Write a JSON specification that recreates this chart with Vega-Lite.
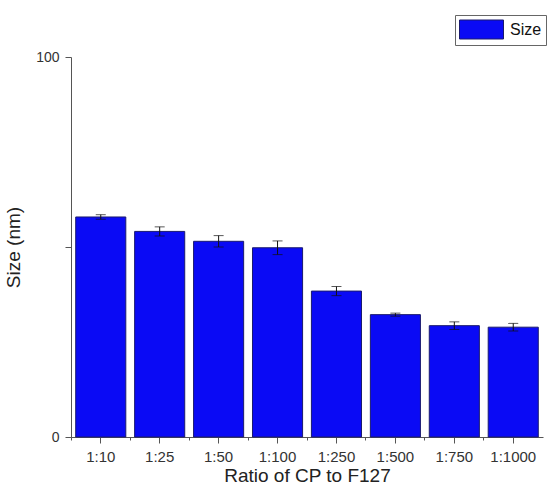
{
  "$schema": "https://vega.github.io/schema/vega-lite/v6.json",
  "autosize": "none",
  "width": 472,
  "height": 380,
  "padding": {"left": 71, "top": 57, "right": 8, "bottom": 58},
  "background": "white",
  "config": {
    "view": {"stroke": null},
    "font": "Liberation Sans"
  },
  "data": {
    "values": [
      {"ratio": "1:10", "size": 57.9, "err": 0.6},
      {"ratio": "1:25", "size": 54.1, "err": 1.2},
      {"ratio": "1:50", "size": 51.5, "err": 1.5},
      {"ratio": "1:100", "size": 49.8, "err": 1.8},
      {"ratio": "1:250", "size": 38.4, "err": 1.2},
      {"ratio": "1:500", "size": 32.2, "err": 0.4},
      {"ratio": "1:750", "size": 29.3, "err": 1.0},
      {"ratio": "1:1000", "size": 28.9, "err": 1.0}
    ]
  },
  "resolve": {"axis": {"x": "independent"}},
  "layer": [
    {
      "mark": {"type": "bar", "color": "#0a0af5", "stroke": "#1a1a6e", "strokeWidth": 1},
      "encoding": {
        "x": {
          "field": "ratio",
          "type": "nominal",
          "sort": null,
          "scale": {"paddingInner": 0.15, "paddingOuter": 0.08},
          "axis": {
            "title": "Ratio of CP to F127",
            "titleFontSize": 19,
            "titleFontWeight": "normal",
            "titleColor": "#222",
            "titlePadding": 2,
            "labelAngle": 0,
            "labelFontSize": 15,
            "labelColor": "#333",
            "labelPadding": 6,
            "domainColor": "#555",
            "tickColor": "#555",
            "tickSize": 6
          }
        },
        "y": {
          "field": "size",
          "type": "quantitative",
          "title": "Size (nm)",
          "scale": {"domain": [0, 100], "nice": false},
          "axis": {
            "title": "Size (nm)",
            "titleFontSize": 19,
            "titleFontWeight": "normal",
            "titleColor": "#222",
            "titlePadding": 12,
            "values": [0, 50, 100],
            "labelExpr": "datum.value == 50 ? '' : datum.label",
            "labelFontSize": 14,
            "labelColor": "#333",
            "labelPadding": 6,
            "grid": false,
            "domainColor": "#555",
            "tickColor": "#555",
            "tickSize": 6
          }
        },
        "fill": {
          "datum": "Size",
          "type": "nominal",
          "scale": {"range": ["#0a0af5"]},
          "legend": {
            "title": null,
            "orient": "none",
            "legendX": 384,
            "legendY": -42,
            "symbolType": "M-2.2,-0.95H2.2V0.95H-2.2Z",
            "symbolSize": 400,
            "symbolOffset": 12,
            "symbolStrokeColor": "#1a1a6e",
            "symbolStrokeWidth": 1,
            "labelFontSize": 16,
            "labelOffset": 18,
            "labelColor": "#111",
            "strokeColor": "#666",
            "padding": 4,
            "fillColor": "white"
          }
        }
      }
    },
    {
      "transform": [
        {"calculate": "datum.size - datum.err", "as": "lo"},
        {"calculate": "datum.size + datum.err", "as": "hi"}
      ],
      "mark": {"type": "errorbar", "ticks": {"size": 10, "color": "#111"}, "rule": {"color": "#111"}},
      "encoding": {
        "x": {
          "field": "ratio",
          "type": "nominal",
          "sort": null,
          "axis": {
            "orient": "top",
            "offset": -380,
            "bandPosition": -0.088,
            "domain": false,
            "labels": false,
            "title": null,
            "tickColor": "#555",
            "tickSize": -3
          }
        },
        "y": {"field": "lo", "type": "quantitative", "title": "Size (nm)"},
        "y2": {"field": "hi"}
      }
    }
  ]
}
